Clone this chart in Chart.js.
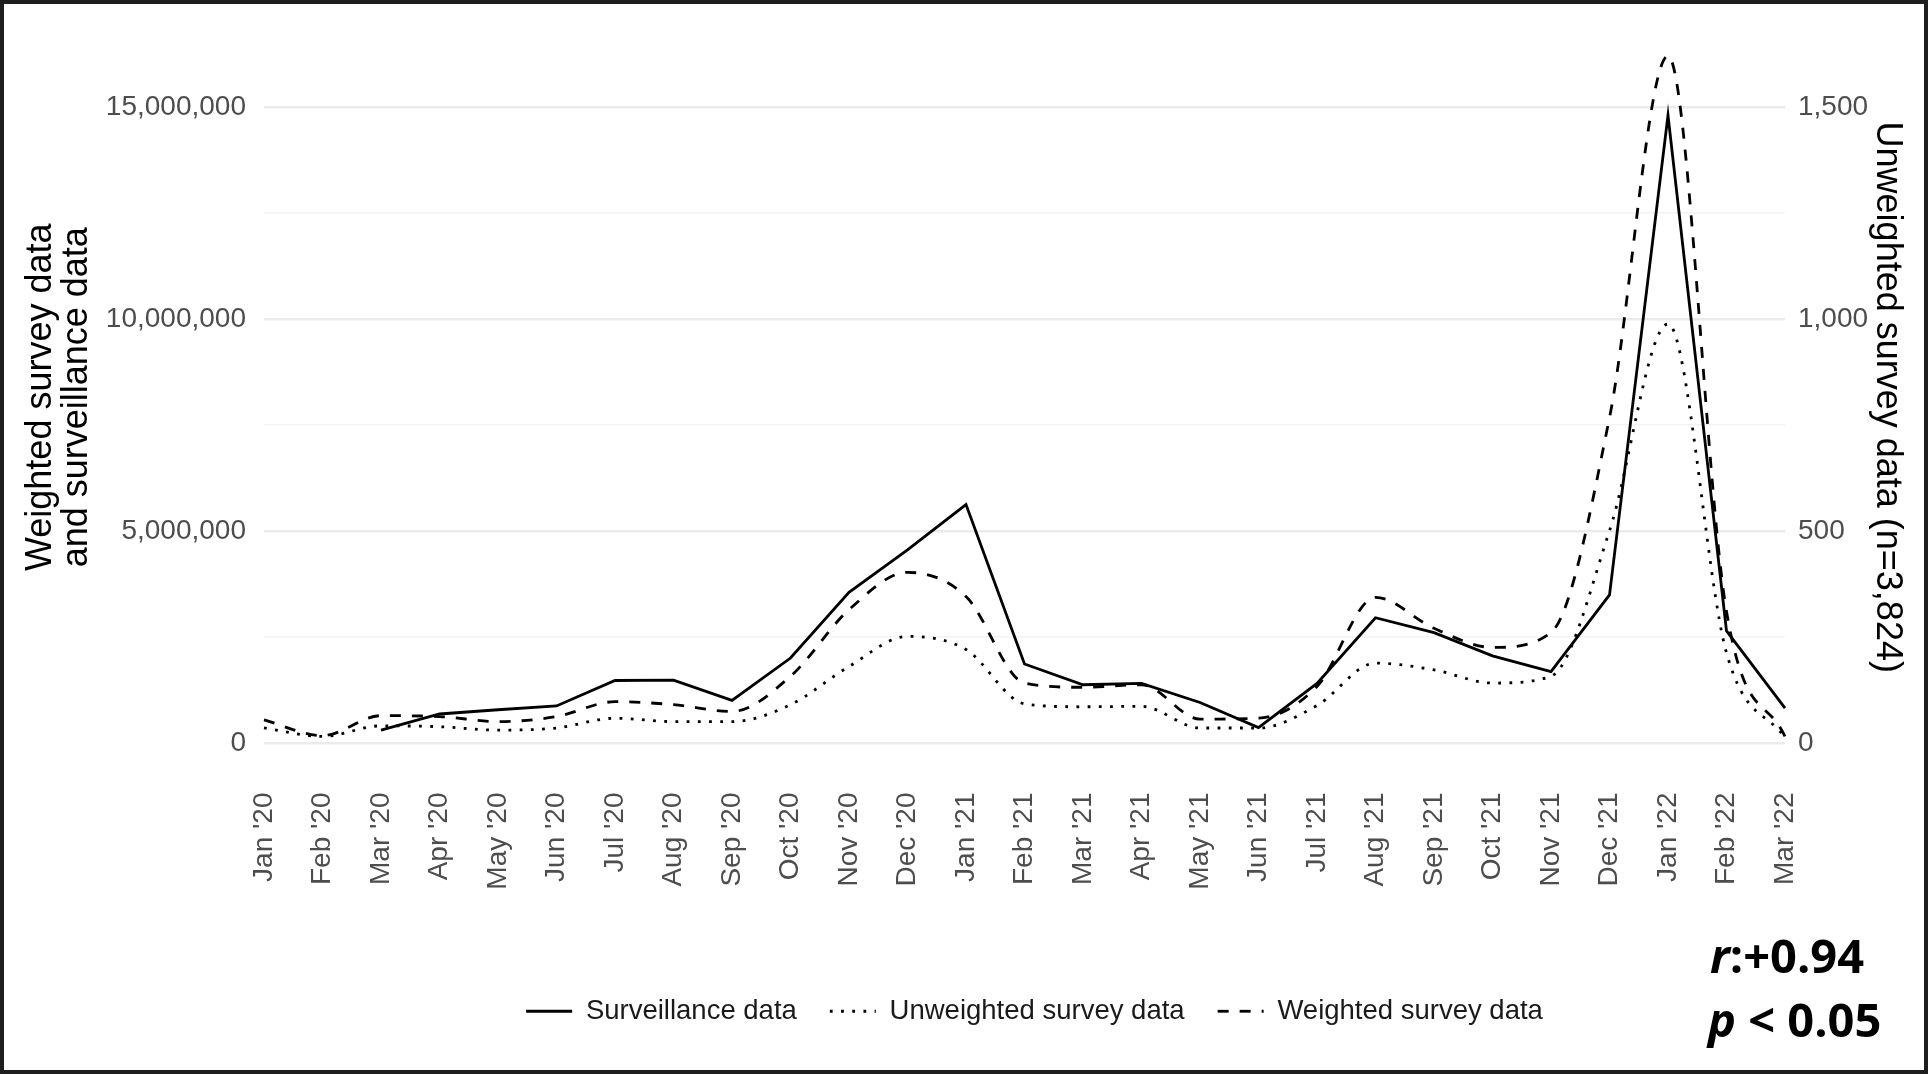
<!DOCTYPE html>
<html>
<head>
<meta charset="utf-8">
<script src="https://cdn.jsdelivr.net/npm/chart.js@4.4.1/dist/chart.umd.min.js"></script>
<style>
  html, body { margin: 0; padding: 0; background: #fff; }
  #frame {
    width: 1928px; height: 1074px; box-sizing: border-box;
    border: 4px solid #1e1e1e; background: #fff; position: relative;
  }
  #chart { display: block; }
</style>
</head>
<body>
<div id="frame"><canvas id="chart" width="1920" height="1066"></canvas></div>
<script>
// Monthly categories, Jan 2020 – Mar 2022
const months = ["Jan '20", "Feb '20", "Mar '20", "Apr '20", "May '20", "Jun '20", "Jul '20", "Aug '20", "Sep '20",
  "Oct '20", "Nov '20", "Dec '20", "Jan '21", "Feb '21", "Mar '21", "Apr '21", "May '21", "Jun '21", "Jul '21",
  "Aug '21", "Sep '21", "Oct '21", "Nov '21", "Dec '21", "Jan '22", "Feb '22", "Mar '22"];

// Reported cases (left axis)
const surveillance = [null, null, 300000, 680000, 780000, 870000, 1470000, 1480000, 1000000, 2000000, 3550000,
  4550000, 5620000, 1860000, 1370000, 1400000, 950000, 360000, 1400000, 2950000, 2600000, 2050000, 1680000,
  3490000, 14800000, 2640000, 820000];

// Weighted survey estimate (left axis)
const weighted = [540000, 170000, 640000, 620000, 500000, 620000, 970000, 900000, 740000, 1570000, 3140000,
  4020000, 3450000, 1410000, 1310000, 1370000, 560000, 580000, 1330000, 3430000, 2700000, 2250000, 2600000,
  7670000, 16200000, 3100000, 150000];

// Unweighted survey respondents (right axis)
const unweighted = [35, 15, 40, 38, 30, 35, 58, 50, 50, 90, 180, 251, 220, 92, 85, 86, 35, 35, 88, 188, 172,
  141, 157, 500, 988, 212, 12];

const leftTicks = [0, 5000000, 10000000, 15000000];
const leftMinorTicks = [2500000, 7500000, 12500000];
const rightTicks = [0, 500, 1000, 1500];

const seriesNames = ['Surveillance data', 'Unweighted survey data', 'Weighted survey data'];
const statLines = [['r', ':+0.94'], ['p', ' < 0.05']];

const SANS = '"Liberation Sans", Arial, sans-serif';
const TICK_FONT = { family: SANS, size: 28 };
const fmt = v => Number(v).toLocaleString('en-US');

// Correlation note in the lower-right corner
const statNote = {
  id: 'statNote',
  afterDraw(chart) {
    const ctx = chart.ctx;
    ctx.save();
    ctx.fillStyle = '#000';
    ctx.textBaseline = 'alphabetic';
    const rows = [{ x: 1706, y: 969 }, { x: 1704, y: 1033 }];
    statLines.forEach((parts, i) => {
      let x = rows[i].x;
      ctx.font = 'italic bold 47px "Open Sans", "Liberation Sans", sans-serif';
      ctx.fillText(parts[0], x, rows[i].y);
      x += ctx.measureText(parts[0]).width;
      ctx.font = 'bold 47px "Open Sans", "Liberation Sans", sans-serif';
      ctx.fillText(parts[1], x, rows[i].y);
    });
    ctx.restore();
  }
};

// Nudge the legend row slightly right of the plot centre
const legendNudge = {
  id: 'legendNudge',
  afterLayout(chart) {
    if (chart.legend) {
      chart.legend.left += 10;
      chart.legend.right += 10;
    }
  }
};

// Vertical axes: fixed widths, no extra label padding above/below the plot
const fixVertical = (w) => (scale) => {
  scale.width = w;
  scale.paddingTop = 0;
  scale.paddingBottom = 0;
};

const lineCommon = { borderColor: '#000', backgroundColor: '#000', borderWidth: 2.8, pointRadius: 0, pointHoverRadius: 0, fill: false };

new Chart(document.getElementById('chart'), {
  type: 'line',
  data: {
    labels: months,
    datasets: [
      { ...lineCommon, label: seriesNames[0], data: surveillance, yAxisID: 'y', tension: 0, borderDash: [] },
      { ...lineCommon, label: seriesNames[1], data: unweighted, yAxisID: 'y2', cubicInterpolationMode: 'monotone', borderDash: [2.8, 8.4] },
      { ...lineCommon, label: seriesNames[2], data: weighted, yAxisID: 'y', cubicInterpolationMode: 'monotone', borderDash: [11, 11] }
    ]
  },
  options: {
    responsive: false,
    animation: false,
    events: [],
    layout: { padding: { top: 18, left: 0, right: 0, bottom: 35 } },
    plugins: {
      tooltip: { enabled: false },
      legend: {
        position: 'bottom',
        fullSize: false,
        labels: {
          usePointStyle: true,
          pointStyleWidth: 46,
          padding: 33,
          color: '#1a1a1a',
          font: { family: SANS, size: 27.5 },
          generateLabels: (chart) => chart.data.datasets.map((ds, i) => ({
            text: ds.label,
            strokeStyle: ds.borderColor,
            fillStyle: ds.borderColor,
            lineWidth: ds.borderWidth,
            lineDash: ds.borderDash || [],
            lineCap: 'butt',
            pointStyle: 'line',
            fontColor: '#1a1a1a',
            hidden: false,
            datasetIndex: i
          }))
        }
      }
    },
    scales: {
      x: {
        type: 'category',
        offset: false,
        grid: { display: false, drawTicks: false },
        border: { display: false },
        ticks: { color: '#4d4d4d', font: TICK_FONT, minRotation: 90, maxRotation: 90, autoSkip: false, padding: 20 },
        afterFit: (scale) => { scale.height = 192; }
      },
      y: {
        position: 'left',
        min: -700000,
        max: 17000000,
        afterBuildTicks: (scale) => {
          scale.ticks = leftTicks.concat(leftMinorTicks).sort((a, b) => a - b).map(v => ({ value: v }));
        },
        ticks: {
          color: '#4d4d4d', font: TICK_FONT, padding: 18,
          callback: (v) => leftTicks.includes(v) ? fmt(v) : ''
        },
        grid: {
          drawTicks: false,
          color: (c) => leftTicks.includes(c.tick.value) ? '#ebebeb' : '#f3f3f3',
          lineWidth: (c) => leftTicks.includes(c.tick.value) ? 2.6 : 1.6
        },
        border: { display: false },
        title: {
          display: true,
          text: ['Weighted survey data', 'and surveillance data'],
          color: '#000',
          font: { family: SANS, size: 36, lineHeight: 1 },
          padding: { top: 19, bottom: 0 }
        },
        afterFit: fixVertical(260)
      },
      y2: {
        position: 'right',
        min: -70,
        max: 1700,
        afterBuildTicks: (scale) => { scale.ticks = rightTicks.map(v => ({ value: v })); },
        ticks: { color: '#4d4d4d', font: TICK_FONT, padding: 13, callback: (v) => fmt(v) },
        grid: { display: false, drawTicks: false },
        border: { display: false },
        title: {
          display: true,
          text: 'Unweighted survey data (n=3,824)',
          color: '#000',
          font: { family: SANS, size: 36, lineHeight: 1 },
          padding: { top: 19, bottom: 0 }
        },
        afterFit: fixVertical(139)
      }
    }
  },
  plugins: [statNote, legendNudge]
});
</script>
</body>
</html>
